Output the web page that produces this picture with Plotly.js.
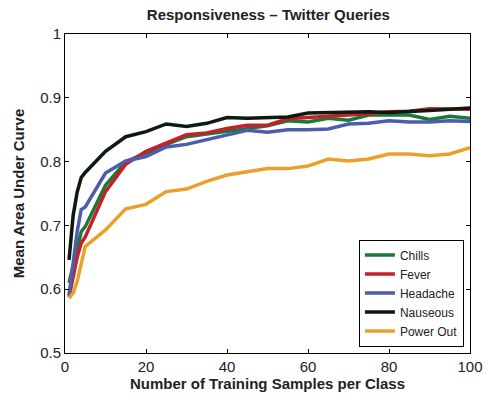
<!DOCTYPE html>
<html>
<head>
<meta charset="utf-8">
<script src="https://cdn.plot.ly/plotly-3.0.1.min.js"></script>
<style>html,body{margin:0;padding:0;background:#fff;}#chart{width:488px;height:396px;}</style>
</head>
<body>
<div id="chart"></div>
<script>
const samples = [1,2,3,4,5,10,15,20,25,30,35,40,45,50,55,60,65,70,75,80,85,90,95,100];
const chills   = [0.610,0.635,0.665,0.690,0.698,0.763,0.800,0.814,0.827,0.839,0.843,0.847,0.852,0.856,0.864,0.862,0.868,0.865,0.873,0.873,0.873,0.866,0.871,0.868];
const fever    = [0.588,0.620,0.650,0.672,0.682,0.753,0.796,0.816,0.829,0.842,0.845,0.852,0.857,0.857,0.867,0.869,0.871,0.872,0.875,0.878,0.879,0.883,0.883,0.882];
const headache = [0.591,0.640,0.690,0.725,0.729,0.782,0.801,0.808,0.823,0.827,0.834,0.842,0.849,0.846,0.850,0.850,0.851,0.859,0.860,0.864,0.862,0.862,0.864,0.863];
const nauseous = [0.646,0.715,0.752,0.775,0.783,0.816,0.839,0.847,0.859,0.855,0.860,0.869,0.868,0.869,0.870,0.876,0.877,0.877,0.878,0.877,0.878,0.880,0.882,0.884];
const powerOut = [0.586,0.594,0.612,0.640,0.667,0.693,0.726,0.733,0.753,0.757,0.769,0.779,0.784,0.789,0.789,0.793,0.804,0.801,0.804,0.812,0.812,0.809,0.812,0.822];
const seriesNames = ["Chills","Fever","Headache","Nauseous","Power Out"];
const xTicks = [0,20,40,60,80,100];
const yTicks = [0.5,0.6,0.7,0.8,0.9,1];
const yTickText = ["0.5","0.6","0.7","0.8","0.9","1"];

const colors = ["#177a3a","#c42026","#4d5cad","#0c1a10","#eba129"];
const values = [chills, fever, headache, nauseous, powerOut];
const traces = values.map((v,i) => ({
  x: samples, y: v, name: seriesNames[i], type: "scatter", mode: "lines",
  line: {color: colors[i], width: 3.5}
}));

const FONT = "Liberation Sans, Arial, sans-serif";
const axisCommon = {
  showgrid: false, zeroline: false, showline: true, linecolor: "#000", linewidth: 1,
  mirror: "ticks", ticks: "inside", ticklen: 4, tickcolor: "#000",
  tickfont: {family: FONT, size: 15, color: "#222"}
};

const layout = {
  width: 488, height: 396,
  margin: {l: 65, r: 18, t: 34, b: 43},
  paper_bgcolor: "#fff", plot_bgcolor: "#fff",
  showlegend: true,
  title: {text: "<b>Responsiveness – Twitter Queries</b>", font: {family: FONT, size: 15, color: "#222"}, x: 0.55, xanchor: "center", y: 0.962, yanchor: "middle"},
  xaxis: Object.assign({}, axisCommon, {
    range: [0, 100], tickvals: xTicks, ticktext: xTicks.map(String),
    title: {text: "<b>Number of Training Samples per Class</b>", font: {family: FONT, size: 15, color: "#222"}, standoff: 4}
  }),
  yaxis: Object.assign({}, axisCommon, {
    range: [0.5, 1], tickvals: yTicks, ticktext: yTickText,
    title: {text: "<b>Mean Area Under Curve</b>", font: {family: FONT, size: 15, color: "#222"}, standoff: 11}
  }),
  legend: {
    x: 0.985, y: 0.02, xanchor: "right", yanchor: "bottom",
    bgcolor: "#fff", bordercolor: "#000", borderwidth: 1,
    font: {family: FONT, size: 12, color: "#222"},
    tracegroupgap: 0, itemwidth: 30
  }
};

Plotly.newPlot("chart", traces, layout, {displayModeBar: false, staticPlot: true});
</script>
</body>
</html>
